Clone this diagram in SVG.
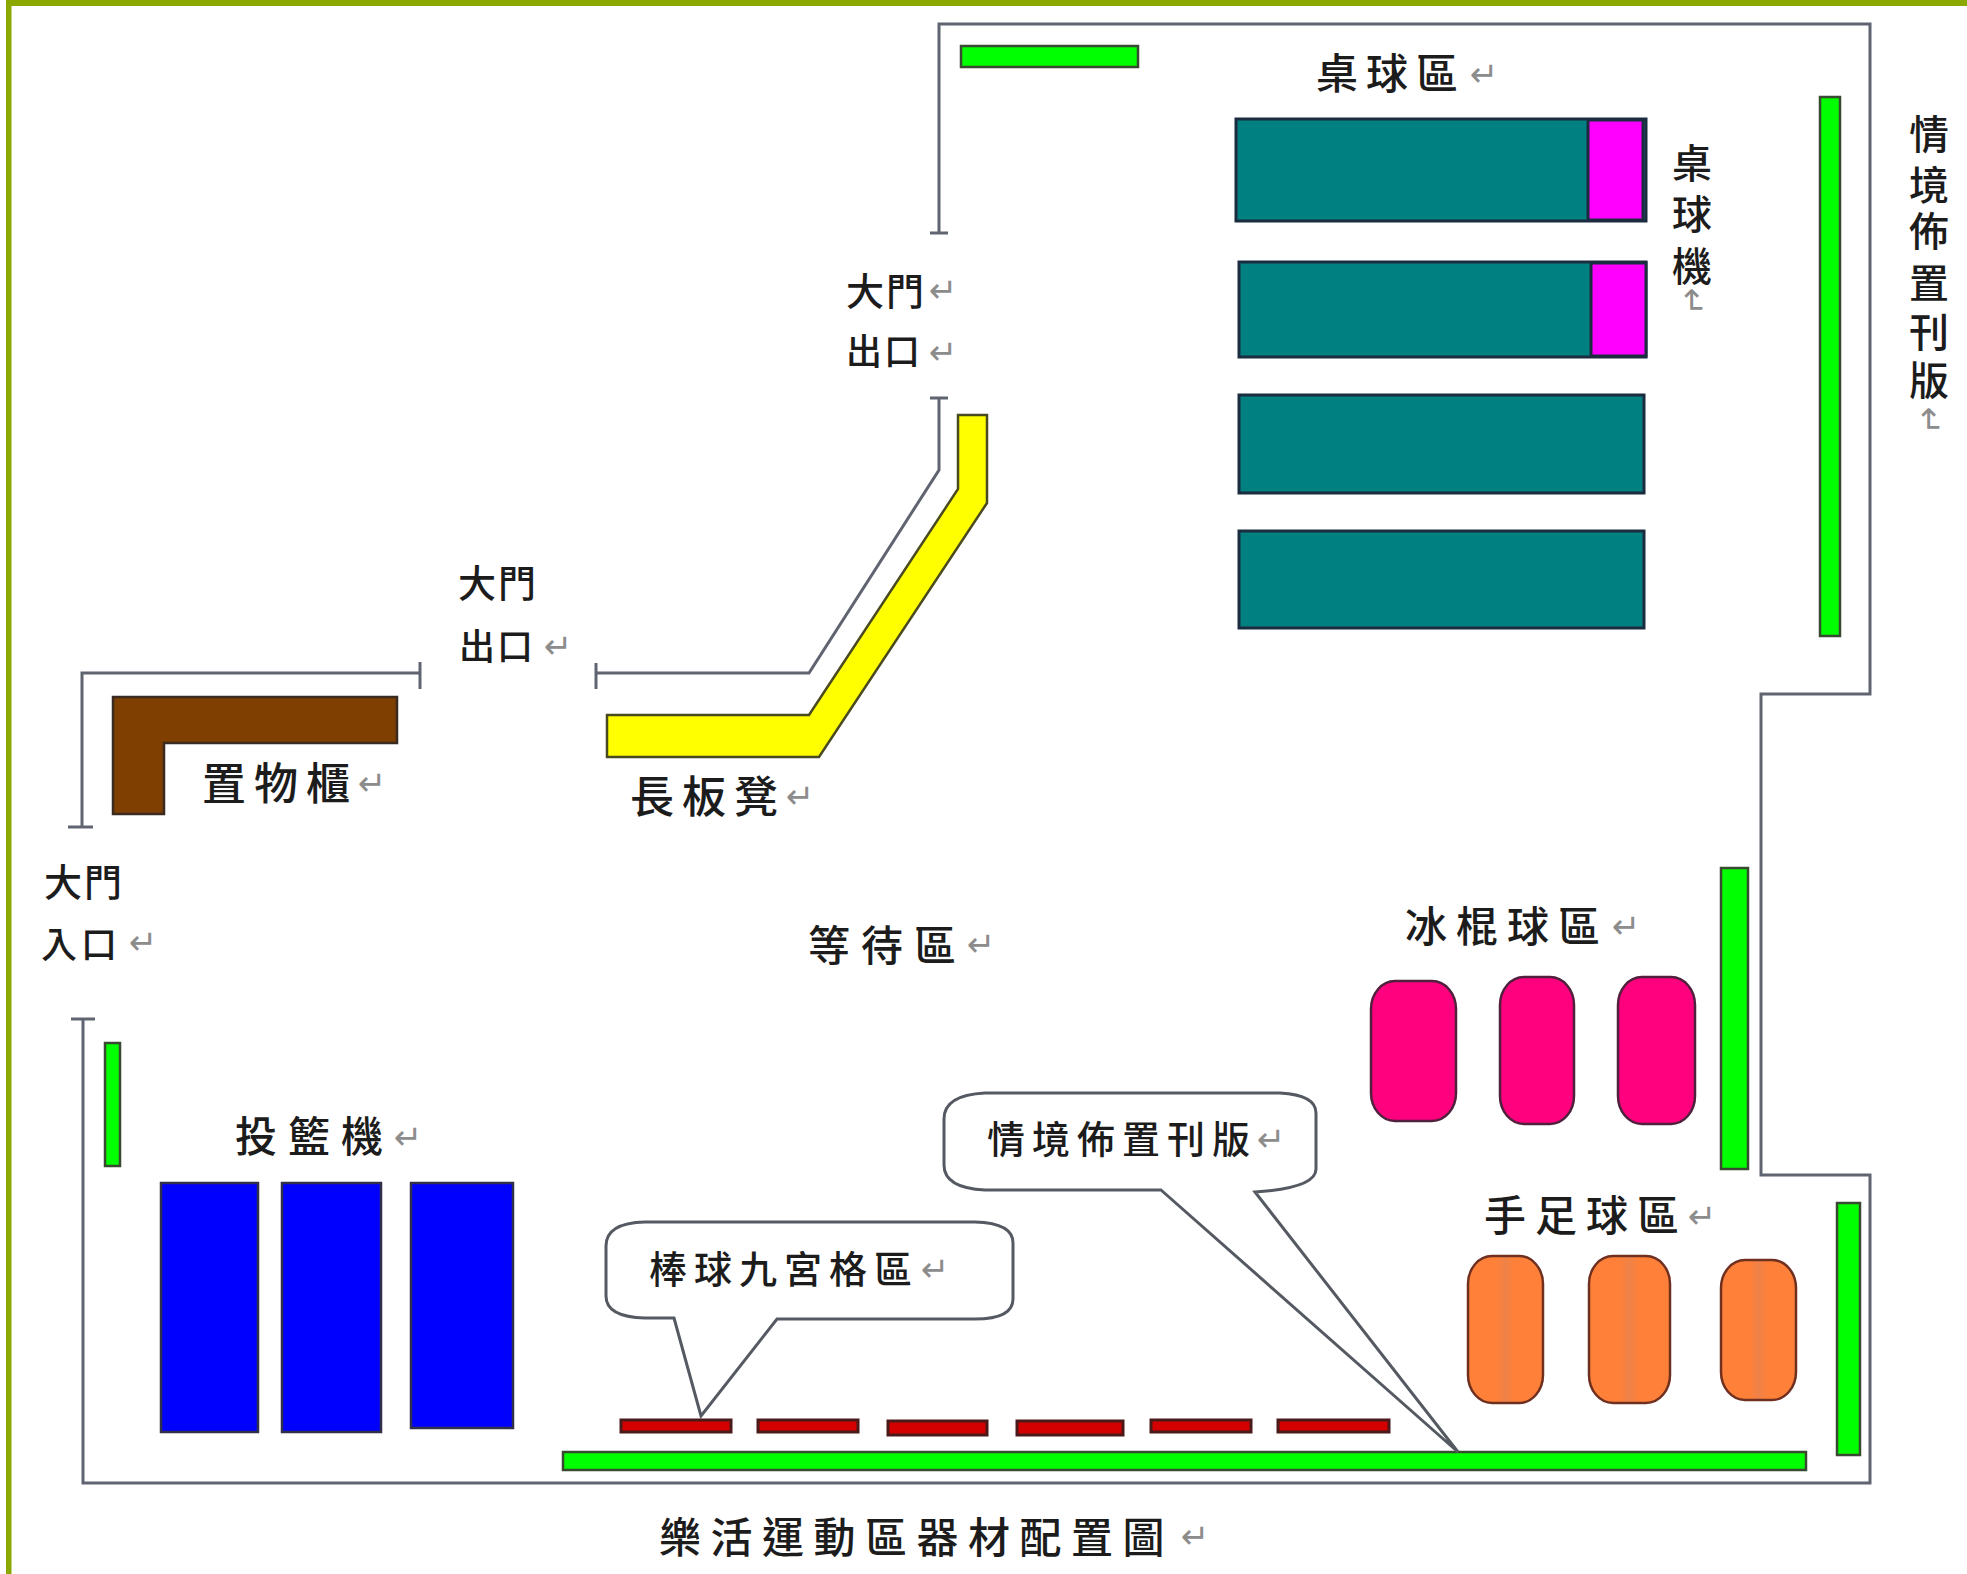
<svg xmlns="http://www.w3.org/2000/svg" width="1967" height="1574" viewBox="0 0 1967 1574">
<defs>
<linearGradient id="og" x1="0" x2="1" y1="0" y2="0">
<stop offset="0" stop-color="#ff8038"/><stop offset="0.38" stop-color="#ff8038"/><stop offset="0.5" stop-color="#ee8248"/><stop offset="0.62" stop-color="#ff8038"/><stop offset="1" stop-color="#ff8038"/>
</linearGradient>
</defs>
<style>
text{font-family:"Noto Sans CJK TC","Noto Sans CJK SC","DejaVu Sans",sans-serif;fill:#1c1c1c;font-weight:500}
.m{font-family:"DejaVu Sans",sans-serif;fill:#8c8c8c;font-size:34px;letter-spacing:0;font-weight:400}
.wall{fill:none;stroke:#5f6470;stroke-width:3}
.teal{fill:#008080;stroke:#1c2c40;stroke-width:3}
.mag{fill:#ff00ff;stroke:#1c2c40;stroke-width:3}
.green{fill:#00ff00;stroke:#3a4a30;stroke-width:2.5}
.blue{fill:#0000ff;stroke:#30304a;stroke-width:2.5}
.red{fill:#d40000;stroke:#4a1a1a;stroke-width:3}
.pink{fill:#ff007f;stroke:#50203c;stroke-width:2.5}
.orange{fill:url(#og);stroke:#703020;stroke-width:2.5}
.bubble{fill:#fff;stroke:#555a62;stroke-width:3}
</style>
<rect width="1967" height="1574" fill="#fff"/>
<g id="frame" fill="#8aa800">
<rect x="6" y="0" width="1961" height="6"/>
<rect x="6" y="0" width="5.5" height="1574"/>
</g>
<g id="walls">
<path class="wall" d="M939 233V24H1870V694H1761V1175H1870V1483H83V1019"/>
<path class="wall" d="M930 233H948M930 398H948"/>
<path class="wall" d="M939 398V470L809 673H596M596 663V689"/>
<path class="wall" d="M420 662V689M420 673H82V827M68 827H93M71 1019H95"/>
</g>
<g id="bench"><path d="M958 415H987V503L819 757H607V715H809L958 489Z" fill="#ffff00" stroke="#4a4a20" stroke-width="2.5"/></g>
<g id="locker"><path d="M113 697H397V743H164V814H113Z" fill="#7f3f00" stroke="#3a2a20" stroke-width="2.5"/></g>
<g id="boards">
<rect class="green" x="961" y="46" width="177" height="21"/>
<rect class="green" x="1820" y="97" width="20" height="539"/>
<rect class="green" x="1721" y="868" width="27" height="301"/>
<rect class="green" x="1837" y="1203" width="23" height="252"/>
<rect class="green" x="105" y="1043" width="15" height="123"/>
<rect class="green" x="563" y="1452" width="1243" height="18"/>
</g>
<g id="table-tennis">
<rect class="teal" x="1236" y="119" width="410" height="102"/>
<rect class="mag" x="1588" y="120" width="55" height="100"/>
<rect class="teal" x="1239" y="262" width="407" height="95"/>
<rect class="mag" x="1591" y="263" width="55" height="93"/>
<rect class="teal" x="1239" y="395" width="405" height="98"/>
<rect class="teal" x="1239" y="531" width="405" height="97"/>
</g>
<g id="basketball">
<rect class="blue" x="161" y="1183" width="97" height="249"/>
<rect class="blue" x="282" y="1183" width="99" height="249"/>
<rect class="blue" x="411" y="1183" width="102" height="245"/>
</g>
<g id="baseball">
<rect class="red" x="621" y="1420" width="110" height="12"/>
<rect class="red" x="758" y="1420" width="100" height="12"/>
<rect class="red" x="888" y="1421" width="99" height="14"/>
<rect class="red" x="1017" y="1421" width="106" height="14"/>
<rect class="red" x="1151" y="1420" width="100" height="12"/>
<rect class="red" x="1278" y="1420" width="111" height="12"/>
</g>
<g id="hockey">
<rect class="pink" x="1371" y="981" width="85" height="140" rx="24" ry="28"/>
<rect class="pink" x="1500" y="977" width="74" height="147" rx="24" ry="28"/>
<rect class="pink" x="1618" y="977" width="77" height="147" rx="24" ry="28"/>
</g>
<g id="foosball">
<rect class="orange" x="1468" y="1256" width="75" height="147" rx="24" ry="28"/>
<rect class="orange" x="1589" y="1256" width="81" height="147" rx="24" ry="28"/>
<rect class="orange" x="1721" y="1260" width="75" height="140" rx="24" ry="28"/>
</g>
<g id="callout-baseball">
<path class="bubble" d="M674 1318L701 1416L777 1319H975Q1013 1319 1013 1299V1243Q1013 1223 975 1222H645Q606 1223 606 1246V1296Q606 1317 645 1318Z"/>
<text font-size="38" letter-spacing="7" x="649" y="1283">棒球九宮格區<tspan class="m" x="921" y="1281">↵</tspan></text>
</g>
<g id="callout-board">
<path class="bubble" d="M1161 1190L1458 1452L1255 1192Q1316 1188 1316 1169V1113Q1316 1095 1280 1093H985Q944 1095 944 1119V1165Q944 1188 985 1190Z"/>
<text font-size="38" letter-spacing="7" x="987" y="1153">情境佈置刊版<tspan class="m" x="1257" y="1151">↵</tspan></text>
</g>
<g id="labels">
<text font-size="42" letter-spacing="8" x="1316" y="89">桌球區<tspan class="m" x="1470" y="86">↵</tspan></text>
<g id="label-machine">
<text font-size="40" text-anchor="middle" x="1692 1692 1692" y="178 229 281">桌球機</text>
<text class="m" transform="translate(1692 302) rotate(90)" text-anchor="middle" y="11">↵</text>
</g>
<g id="label-theme-board">
<text font-size="40" text-anchor="middle" x="1929 1929 1929 1929 1929 1929" y="149 200 246 298 347 395">情境佈置刊版</text>
<text class="m" transform="translate(1929 421) rotate(90)" text-anchor="middle" y="11">↵</text>
</g>
<g id="label-exit-top">
<text font-size="38" x="846" y="305" letter-spacing="2">大門<tspan class="m" x="929" y="302">↵</tspan></text>
<text font-size="36" x="846" y="365" letter-spacing="2">出口<tspan class="m" x="929" y="364">↵</tspan></text>
</g>
<g id="label-exit-mid">
<text font-size="38" x="458" y="597" letter-spacing="2">大門</text>
<text font-size="36" x="459" y="660" letter-spacing="2">出口<tspan class="m" x="544" y="658">↵</tspan></text>
</g>
<g id="label-entry">
<text font-size="38" x="44" y="896" letter-spacing="2">大門</text>
<text font-size="36" x="41" y="958" letter-spacing="4">入口<tspan class="m" x="129" y="954">↵</tspan></text>
</g>
<text font-size="44" letter-spacing="8" x="202" y="800">置物櫃<tspan class="m" x="358" y="795">↵</tspan></text>
<text font-size="44" letter-spacing="8" x="630" y="813">長板凳<tspan class="m" x="786" y="808">↵</tspan></text>
<text font-size="42" letter-spacing="11" x="808" y="961">等待區<tspan class="m" x="967" y="956">↵</tspan></text>
<text font-size="42" letter-spacing="11" x="235" y="1152">投籃機<tspan class="m" x="394" y="1149">↵</tspan></text>
<text font-size="42" letter-spacing="9" x="1405" y="942">冰棍球區<tspan class="m" x="1612" y="938">↵</tspan></text>
<text font-size="42" letter-spacing="9" x="1484" y="1231">手足球區<tspan class="m" x="1688" y="1228">↵</tspan></text>
<text font-size="42" letter-spacing="9.5" x="659" y="1553">樂活運動區器材配置圖<tspan class="m" x="1181" y="1548">↵</tspan></text>
</g>
</svg>
